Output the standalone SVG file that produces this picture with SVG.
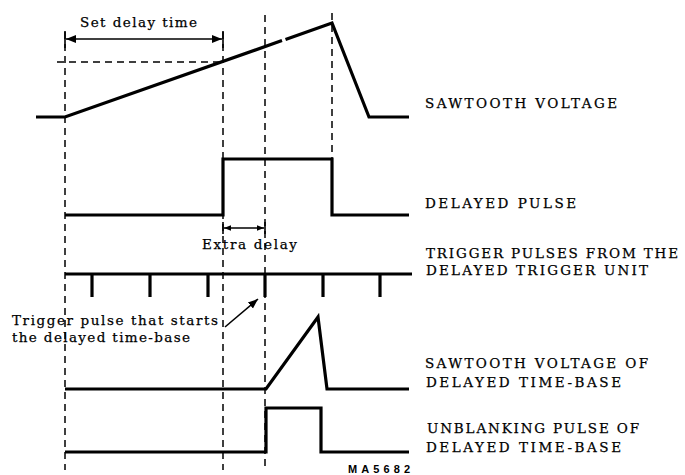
<svg xmlns="http://www.w3.org/2000/svg" width="685" height="475" viewBox="0 0 685 475">
<style>
.wave{fill:none;stroke:#000;stroke-width:3.2;stroke-linejoin:miter;stroke-linecap:butt}
.dash{fill:none;stroke:#000;stroke-width:1.5;stroke-dasharray:7 5}
.thin{fill:none;stroke:#000;stroke-width:1.6}
.lbl{font-family:"DejaVu Serif","Liberation Serif",serif;font-size:13.5px;fill:#000;stroke:#000;stroke-width:0.25}
.note{font-family:"DejaVu Serif","Liberation Serif",serif;font-size:13.5px;fill:#000;stroke:#000;stroke-width:0.25}
.code{font-family:"Liberation Sans",Arial,sans-serif;font-size:11px;font-weight:bold;fill:#000}
</style>
<defs>
<marker id="ah" viewBox="0 0 10 10" refX="10" refY="5" markerWidth="7" markerHeight="7" markerUnits="userSpaceOnUse" orient="auto-start-reverse">
<path d="M0,1 L10,5 L0,9 z" fill="#000"/>
</marker>
<marker id="ah2" viewBox="0 0 10 10" refX="10" refY="5" markerWidth="10" markerHeight="10" markerUnits="userSpaceOnUse" orient="auto-start-reverse">
<path d="M0,1 L10,5 L0,9 z" fill="#000"/>
</marker>
</defs>
<rect width="685" height="475" fill="#fff"/>

<g id="guides">
<line class="dash" x1="65" y1="32" x2="65" y2="470"/>
<line class="dash" x1="223" y1="32" x2="223" y2="470"/>
<line class="dash" x1="265" y1="15" x2="265" y2="470"/>
<line class="dash" x1="332" y1="13" x2="332" y2="159"/>
<line class="dash" x1="57" y1="62" x2="223" y2="62"/>
</g>

<g id="sawtooth">
<polyline class="wave" points="36,117 65,117 282,40.6"/>
<polyline class="wave" points="285.5,39.4 332,23 369,117 409,117"/>
</g>

<g id="delayed-pulse">
<polyline class="wave" points="65,215 223,215 223,159 332,159 332,215 409,215"/>
</g>

<g id="trigger-pulses">
<polyline class="wave" points="65,274 412,274"/>
<g class="wave">
<line x1="92" y1="274" x2="92" y2="297"/>
<line x1="150" y1="274" x2="150" y2="297"/>
<line x1="208" y1="274" x2="208" y2="297"/>
<line x1="265" y1="274" x2="265" y2="297"/>
<line x1="323" y1="274" x2="323" y2="297"/>
<line x1="380" y1="274" x2="380" y2="297"/>
</g>
</g>

<g id="delayed-sawtooth">
<polyline class="wave" points="65,389 266,389 318,317 327,389 409,389"/>
</g>

<g id="unblanking-pulse">
<polyline class="wave" points="65,452 266,452 266,408 321,408 321,452 409,452"/>
</g>

<g id="connectors">
<line class="thin" x1="66" y1="39" x2="222" y2="39" marker-start="url(#ah2)" marker-end="url(#ah2)"/>
<line class="thin" x1="65" y1="31" x2="65" y2="48"/>
<line class="thin" x1="223" y1="31" x2="223" y2="48"/>
<line class="thin" x1="224" y1="228" x2="264" y2="228" marker-start="url(#ah)" marker-end="url(#ah)"/>
<line class="thin" x1="223" y1="222" x2="223" y2="234"/>
<line class="thin" x1="265" y1="222" x2="265" y2="234"/>
<line class="thin" x1="225" y1="327" x2="258" y2="299" marker-end="url(#ah2)"/>
</g>

<g id="annotations">
<text class="note" x="80" y="27" textLength="117" lengthAdjust="spacing">Set delay time</text>
<text class="note" x="202" y="249" textLength="95" lengthAdjust="spacing">Extra delay</text>
<text class="note" x="12" y="325" textLength="206" lengthAdjust="spacing">Trigger pulse that starts</text>
<text class="note" x="12" y="342" textLength="178" lengthAdjust="spacing">the delayed time-base</text>
<text class="code" x="348" y="473" textLength="62" lengthAdjust="spacing">MA5682</text>
</g>

<g id="labels">
<text class="lbl" x="425" y="108" textLength="192" lengthAdjust="spacing">SAWTOOTH VOLTAGE</text>
<text class="lbl" x="425" y="208" textLength="151" lengthAdjust="spacing">DELAYED PULSE</text>
<text class="lbl" x="426" y="258" textLength="252" lengthAdjust="spacing">TRIGGER PULSES FROM THE</text>
<text class="lbl" x="426" y="275" textLength="222" lengthAdjust="spacing">DELAYED TRIGGER UNIT</text>
<text class="lbl" x="425" y="368" textLength="223" lengthAdjust="spacing">SAWTOOTH VOLTAGE OF</text>
<text class="lbl" x="426" y="387" textLength="195" lengthAdjust="spacing">DELAYED TIME-BASE</text>
<text class="lbl" x="427" y="433" textLength="212" lengthAdjust="spacing">UNBLANKING PULSE OF</text>
<text class="lbl" x="426" y="452" textLength="195" lengthAdjust="spacing">DELAYED TIME-BASE</text>
</g>
</svg>
